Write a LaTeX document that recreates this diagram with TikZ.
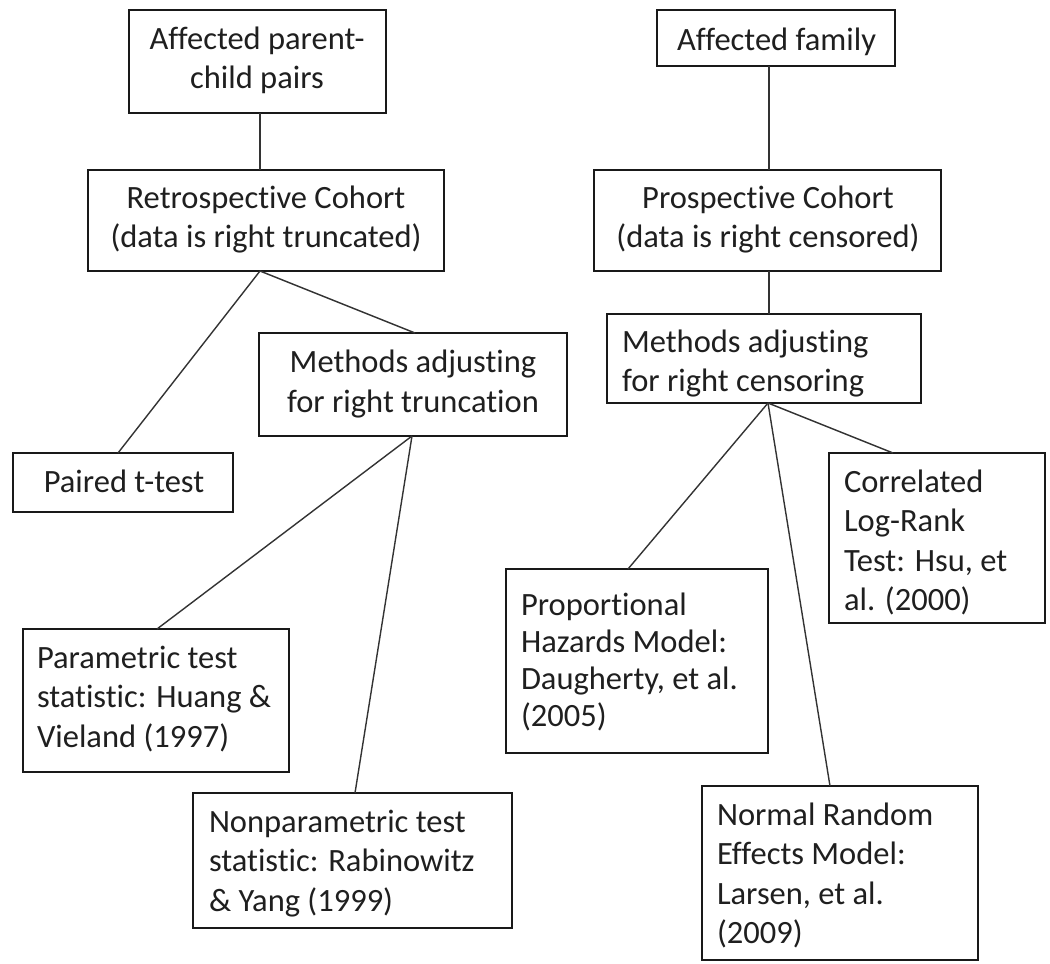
\documentclass[tikz,border=0pt]{standalone}
\usepackage{fontspec}
\setmainfont{Carlito}[RawFeature={-liga;-clig}]
\newcommand{\Tstr}{\rule{0pt}{30pt}}
\begin{document}
\begin{tikzpicture}[x=1pt,y=-1pt,
  box/.style={draw=black!90, line width=1.8pt, inner sep=0pt, outer sep=0pt},
  txt/.style={inner sep=0pt, outer sep=0pt, font=\fontsize{32.5}{39.5}\selectfont, text=black!88},
  conn/.style={draw=black!80, line width=1.4pt}]
\useasboundingbox[fill=white] (0,0) rectangle (1050,964);

% boxes
\node[box, minimum width=257pt, minimum height=103pt] (pc) at (257.5,61.5) {};
\node[box, minimum width=238pt, minimum height=56pt]  (af) at (776,38) {};
\node[box, minimum width=356pt, minimum height=101pt] (rc) at (266,220.5) {};
\node[box, minimum width=347pt, minimum height=101pt] (pr) at (767.5,220.5) {};
\node[box, minimum width=308pt, minimum height=103pt] (mt) at (413,384.5) {};
\node[box, minimum width=314pt, minimum height=89pt]  (mc) at (764,358.5) {};
\node[box, minimum width=220pt, minimum height=59pt]  (pt) at (123,482.5) {};
\node[box, minimum width=216pt, minimum height=170pt] (cl) at (937,538) {};
\node[box, minimum width=262pt, minimum height=184pt] (ph) at (637,661) {};
\node[box, minimum width=266pt, minimum height=143pt] (pa) at (156,700.5) {};
\node[box, minimum width=319pt, minimum height=135pt] (np) at (352.5,860.5) {};
\node[box, minimum width=276pt, minimum height=174pt] (nr) at (840,873) {};

% texts
\node[txt, anchor=north, align=center] (pc-t) at (257,19) {\Tstr Affected parent-\\child pairs};
\node[txt, anchor=north, align=center] (af-t) at (776.5,20) {\Tstr Affected family};
\node[txt, anchor=north, align=center] (rc-t) at (266,178) {\Tstr Retrospective Cohort\\(data is right truncated)};
\node[txt, anchor=north, align=center] (pr-t) at (768,178) {\Tstr Prospective Cohort\\(data is right censored)};
\node[txt, anchor=north, align=center] (mt-t) at (413,342.5) {\Tstr Methods adjusting\\for right truncation};
\node[txt, anchor=north west, align=left] (mc-t) at (622,322) {\Tstr Methods adjusting\\for right censoring};
\node[txt, anchor=north, align=center] (pt-t) at (124,462) {\Tstr Paired t-test};
\node[txt, anchor=north west, align=left] (cl-t) at (844,462) {\Tstr Correlated\\Log-Rank\\Test: Hsu, et\\al. (2000)};
\node[txt, anchor=north west, align=left, font=\fontsize{32.5}{37}\selectfont] (ph-t) at (521,585) {\Tstr Proportional\\Hazards Model:\\Daugherty, et al.\\(2005)};
\node[txt, anchor=north west, align=left] (pa-t) at (37,638) {\Tstr Parametric test\\statistic: Huang \&\\Vieland (1997)};
\node[txt, anchor=north west, align=left] (np-t) at (209,802) {\Tstr Nonparametric test\\statistic: Rabinowitz\\\& Yang (1999)};
\node[txt, anchor=north west, align=left] (nr-t) at (717,795) {\Tstr Normal Random\\Effects Model:\\Larsen, et al.\\(2009)};

% connectors
\draw[conn] ([xshift=2.5pt]pc.south) -- ([xshift=-6pt]rc.north);
\draw[conn] ([xshift=-7pt]af.south) -- ([xshift=1.5pt]pr.north);
\draw[conn] ([xshift=-6pt]rc.south) -- ([xshift=-5pt]pt.north);
\draw[conn] ([xshift=-6pt]rc.south) -- ([xshift=2pt]mt.north);
\draw[conn] ([xshift=1.5pt]pr.south) -- ([xshift=5pt]mc.north);
\draw[conn] ([xshift=-1pt]mt.south) -- ([xshift=1pt]pa.north);
\draw[conn] ([xshift=-1pt]mt.south) -- ([xshift=2.5pt]np.north);
\draw[conn] ([xshift=4pt]mc.south) -- ([xshift=-9pt]ph.north);
\draw[conn] ([xshift=4pt]mc.south) -- ([xshift=-10pt]nr.north);
\draw[conn] ([xshift=4pt]mc.south) -- ([xshift=-44pt]cl.north);
\end{tikzpicture}
\end{document}
